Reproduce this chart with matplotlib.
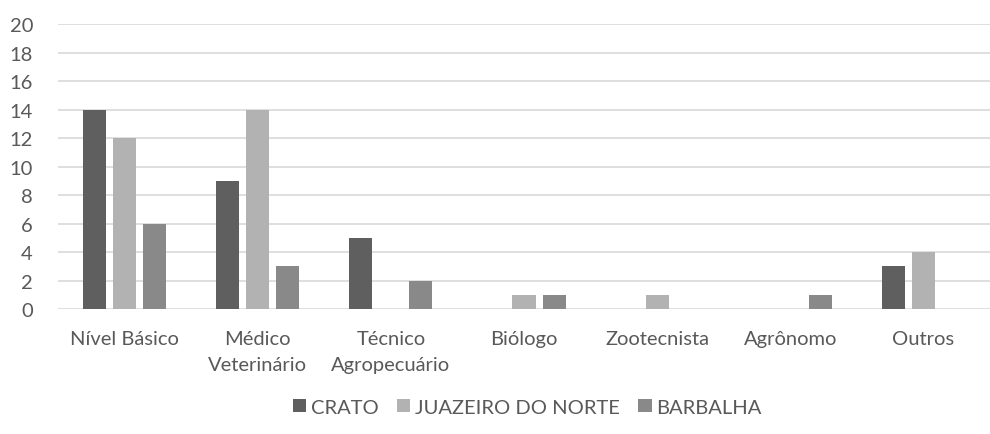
import matplotlib
matplotlib.use("Agg")
import matplotlib.pyplot as plt
import numpy as np

categories = ["Nível Básico", "Médico\nVeterinário", "Técnico\nAgropecuário", "Biólogo", "Zootecnista", "Agrônomo", "Outros"]
series_names = ["CRATO", "JUAZEIRO DO NORTE", "BARBALHA"]
crato = [14, 9, 5, 0, 0, 0, 3]
juazeiro = [12, 14, 0, 1, 1, 0, 4]
barbalha = [6, 3, 2, 1, 0, 1, 0]
colors = ["#5f5f5f", "#b2b2b2", "#898989"]
yticks = list(range(0, 21, 2))

plt.rcParams['font.family'] = ['Lato', 'DejaVu Sans']
fig = plt.figure(figsize=(9.9, 4.35), dpi=100)
ax = fig.add_axes([0.0586, 0.287, 0.9414, 0.6555])

x = np.arange(len(categories))
w = 0.173
sp = 0.226
for i, (vals, name, c) in enumerate(zip([crato, juazeiro, barbalha], series_names, colors)):
    ax.bar(x + (i - 1) * sp, vals, width=w, color=c, label=name, zorder=3)

fs = 14.5
ax.set_xlim(-0.5, len(categories) - 0.5)
ax.set_ylim(0, 20)
ax.set_yticks(yticks)
ax.set_yticklabels([str(t) for t in yticks], fontsize=fs, color="#595959")
ax.set_xticks(x)
ax.set_xticklabels(categories, fontsize=fs, color="#595959", linespacing=1.65)
ax.tick_params(axis='both', length=0)
ax.tick_params(axis='y', pad=18)
ax.tick_params(axis='x', pad=15)
ax.grid(axis='y', color="#d9d9d9", linewidth=1.2, zorder=0)
for s in ax.spines.values():
    s.set_visible(False)

leg = fig.legend(loc='center', bbox_to_anchor=(0.533, 0.062), ncol=3, frameon=False,
                 fontsize=fs, handlelength=0.65, handleheight=0.65, handletextpad=0.25,
                 columnspacing=0.9)
for t in leg.get_texts():
    t.set_color("#595959")

fig.savefig("out.png", dpi=100)
